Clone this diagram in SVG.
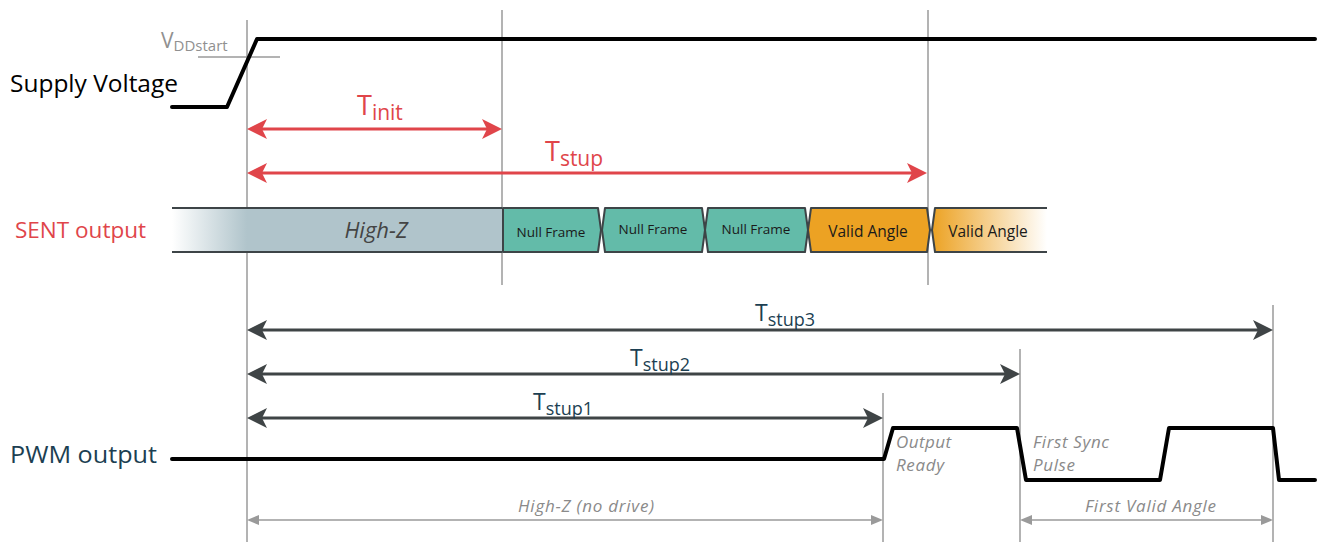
<svg xmlns="http://www.w3.org/2000/svg" width="1317" height="542" viewBox="0 0 1317 542">
<style>
text{font-family:"Open Sans","Liberation Sans",sans-serif}
.sig{fill:none;stroke:#000;stroke-width:4;stroke-linecap:round;stroke-linejoin:round}
.guide{stroke:#9a9a9a;stroke-width:1.5;fill:none}
.red{stroke:#e0454a;stroke-width:3;fill:none}
.dark{stroke:#3f4446;stroke-width:3;fill:none}
.dim{stroke:#9a9a9a;stroke-width:1.5;fill:none}
.frame{stroke:#3d4447;stroke-width:2;stroke-linejoin:round}
.teal{fill:#63bba9}
.orange{fill:#eca223}
.ftxt{fill:#1a1a1a;text-anchor:middle}
.note{fill:#8a8a8a;font-style:italic;font-size:17px}
.lbl{font-size:24px}
.tdark{fill:#1c3f52;font-size:23px}
.tred{fill:#e0454a;font-size:27px}
</style>
<defs>
<marker id="ar" viewBox="0 0 20 20" refX="10" refY="10" markerWidth="20" markerHeight="20" markerUnits="userSpaceOnUse" orient="auto-start-reverse"><path d="M0,0 L20,10 L0,20 L5,10 z" fill="#e0454a"/></marker>
<marker id="ad" viewBox="0 0 20 20" refX="10" refY="10" markerWidth="20" markerHeight="20" markerUnits="userSpaceOnUse" orient="auto-start-reverse"><path d="M0,0 L20,10 L0,20 L5,10 z" fill="#3f4446"/></marker>
<marker id="ag" viewBox="0 0 12 10" refX="6" refY="5" markerWidth="12" markerHeight="10" markerUnits="userSpaceOnUse" orient="auto-start-reverse"><path d="M0,0 L12,5 L0,10 z" fill="#9a9a9a"/></marker>
<linearGradient id="gHz" gradientUnits="userSpaceOnUse" x1="172" y1="0" x2="247" y2="0"><stop offset="0" stop-color="#ffffff"/><stop offset="1" stop-color="#b0c4cb"/></linearGradient>
<linearGradient id="gVa" gradientUnits="userSpaceOnUse" x1="932" y1="0" x2="1047" y2="0"><stop offset="0" stop-color="#eca223"/><stop offset="1" stop-color="#ffffff"/></linearGradient>
</defs>

<g id="guides">
<line class="guide" x1="247" y1="20" x2="247" y2="542"/>
<line class="guide" x1="502" y1="10" x2="502" y2="285"/>
<line class="guide" x1="928" y1="10" x2="928" y2="285"/>
<line class="guide" x1="883" y1="393" x2="883" y2="542"/>
<line class="guide" x1="1020" y1="349" x2="1020" y2="542"/>
<line class="guide" x1="1273" y1="305" x2="1273" y2="542"/>
<line class="guide" x1="198" y1="57" x2="280" y2="57"/>
</g>

<g id="supply">
<text class="lbl" x="10" y="92" fill="#000" textLength="168" lengthAdjust="spacingAndGlyphs">Supply Voltage</text>
<text x="161" y="48" fill="#909090" font-size="21">V<tspan font-size="15" dy="3">DDstart</tspan></text>
<path class="sig" d="M172,107 L227,107 L257,39 L1315,39"/>
</g>

<g id="sent">
<text x="15" y="238" fill="#e0454a" style="font-size:22px" textLength="131" lengthAdjust="spacingAndGlyphs">SENT output</text>
<g id="highz">
<rect x="172" y="208" width="330" height="44" fill="url(#gHz)"/>
<line class="frame" x1="172" y1="208" x2="502" y2="208"/>
<line class="frame" x1="172" y1="252" x2="502" y2="252"/>
<text x="376" y="238" fill="#444" font-size="22" font-style="italic" text-anchor="middle">High-Z</text>
</g>
<g id="null1">
<path class="frame teal" d="M503,208 L598,208 L601,230 L598,252 L503,252 z"/>
<text class="ftxt" x="551" y="237" font-size="13.5">Null Frame</text>
</g>
<g id="null2">
<path class="frame teal" d="M605,208 L702,208 L705,230 L702,252 L605,252 L602,230 z"/>
<text class="ftxt" x="653" y="234" font-size="13.5">Null Frame</text>
</g>
<g id="null3">
<path class="frame teal" d="M708,208 L805,208 L808,230 L805,252 L708,252 L705,230 z"/>
<text class="ftxt" x="756" y="234" font-size="13.5">Null Frame</text>
</g>
<g id="valid1">
<path class="frame orange" d="M811,208 L927,208 L930,230 L927,252 L811,252 L808,230 z"/>
<text class="ftxt" x="868" y="237" font-size="15.5">Valid Angle</text>
</g>
<g id="valid2">
<path d="M935,208 L1047,208 L1047,252 L935,252 L932,230 z" fill="url(#gVa)"/>
<path class="frame" fill="none" d="M1047,208 L935,208 L932,230 L935,252 L1047,252"/>
<text class="ftxt" x="988" y="237" font-size="15.5">Valid Angle</text>
</g>
</g>

<g id="pwm">
<text class="lbl" x="10" y="463" fill="#1c3f52" textLength="147" lengthAdjust="spacingAndGlyphs">PWM output</text>
<path class="sig" d="M172,459 L884,459 L893,428 L1017,428 L1026,480 L1160,480 L1169,428 L1273,428 L1279,480 L1315,480"/>
<text class="note" x="896" y="448" textLength="55">Output</text>
<text class="note" x="896" y="471" textLength="48">Ready</text>
<text class="note" x="1033" y="448" textLength="76">First Sync</text>
<text class="note" x="1033" y="471" textLength="42">Pulse</text>
</g>

<g id="connectors">
<line class="red" x1="257" y1="129" x2="492" y2="129" marker-start="url(#ar)" marker-end="url(#ar)"/>
<line class="red" x1="257" y1="173" x2="917" y2="173" marker-start="url(#ar)" marker-end="url(#ar)"/>
<line class="dark" x1="257" y1="330" x2="1263" y2="330" marker-start="url(#ad)" marker-end="url(#ad)"/>
<line class="dark" x1="257" y1="374" x2="1010" y2="374" marker-start="url(#ad)" marker-end="url(#ad)"/>
<line class="dark" x1="257" y1="418" x2="873" y2="418" marker-start="url(#ad)" marker-end="url(#ad)"/>
<line class="dim" x1="253" y1="520" x2="877" y2="520" marker-start="url(#ag)" marker-end="url(#ag)"/>
<line class="dim" x1="1026" y1="520" x2="1267" y2="520" marker-start="url(#ag)" marker-end="url(#ag)"/>
</g>

<g id="labels">
<text class="tred" x="357" y="115">T<tspan font-size="21" dy="5">init</tspan></text>
<text class="tred" x="545" y="161">T<tspan font-size="21" dy="5">stup</tspan></text>
<text class="tdark" x="755" y="321">T<tspan font-size="18" dy="5">stup3</tspan></text>
<text class="tdark" x="630" y="366">T<tspan font-size="18" dy="5">stup2</tspan></text>
<text class="tdark" x="533" y="410">T<tspan font-size="18" dy="5">stup1</tspan></text>
<text class="note" x="518" y="512" textLength="136">High-Z (no drive)</text>
<text class="note" x="1085" y="512" textLength="131">First Valid Angle</text>
</g>
</svg>
